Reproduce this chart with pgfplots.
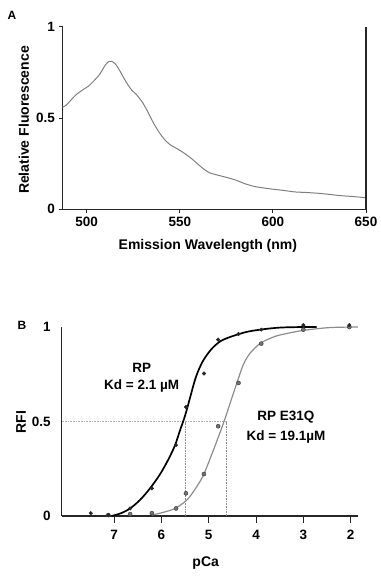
\documentclass[border=0pt]{standalone}
\usepackage{fontspec}
\setmainfont{Liberation Sans}
\usepackage{pgfplots}
\pgfplotsset{compat=1.18}
\definecolor{specgray}{HTML}{7F7F7F}
\definecolor{fitgray}{HTML}{8C8C8C}
\definecolor{dotgray}{HTML}{B0B0B0}
\begin{document}
\begin{tikzpicture}[x=1pt,y=1pt]
\path[use as bounding box] (0,0) rectangle (380,-578);
\node[font=\bfseries\fontsize{12}{12}\selectfont] at (12,-15) {A};
\node[font=\bfseries\fontsize{12}{12}\selectfont] at (22,-325) {B};
% ---------------- Panel A
\begin{axis}[
  at={(62.5pt,-209.3pt)}, anchor=south west, scale only axis,
  width=303.5pt, height=182.6pt,
  xmin=487, xmax=650, ymin=0, ymax=1,
  axis lines*=left, clip=false,
  axis line style={line width=1.1pt, black!85},
  xtick={500,550,600,650}, ytick={0,0.5,1},
  yticklabels={0,0.5,1},
  tick align=outside, major tick length=4pt,
  tick style={line width=1pt, black!85},
  /pgf/number format/assume math mode=true,
  ticklabel style={font=\bfseries\fontsize{13.5}{13.5}\selectfont},
  xticklabel style={yshift=0pt},
  yticklabel style={xshift=0pt},
  xlabel={Emission Wavelength (nm)},
  ylabel={Relative Fluorescence},
  xlabel style={at={(axis description cs:0.479,-0.2026)}, anchor=center, font=\bfseries\fontsize{14}{14}\selectfont},
  ylabel style={at={(axis description cs:-0.127,0.489)}, anchor=center, font=\bfseries\fontsize{14}{14}\selectfont},
]
\addplot[specgray, line width=1pt, smooth, tension=0.4] coordinates {
(487,0.56) (489,0.57) (494,0.625) (498,0.655) (501,0.675) (504,0.705) (507,0.74)
(510,0.79) (512,0.81) (513.5,0.81) (515.5,0.795) (518,0.755) (521,0.70) (524,0.655)
(527,0.625) (530,0.585) (533,0.53) (536,0.47) (539,0.42) (542,0.38) (545,0.352)
(548,0.335) (552,0.31) (556,0.28) (560,0.245) (563,0.219) (566,0.20) (570,0.188)
(575,0.175) (580,0.16) (585,0.14) (590,0.125) (595,0.117) (600,0.11) (606,0.103)
(612,0.095) (618,0.092) (624,0.088) (630,0.082) (636,0.075) (643,0.07) (650,0.063)
};
\addplot[black!85, line width=1.1pt] coordinates {(650,0) (650,1)};
\end{axis}
% ---------------- Panel B
\begin{axis}[
  at={(61.7pt,-516pt)}, anchor=south west, scale only axis,
  width=296.3pt, height=189pt,
  xmin=1.846, xmax=8.105, x dir=reverse, ymin=0, ymax=1,
  axis lines*=left, clip=false,
  axis line style={line width=1.1pt, black!85},
  xtick={7,6,5,4,3,2}, ytick={0,0.5,1},
  yticklabels={0,0.5,1},
  tick align=outside, major tick length=6.5pt,
  xtick style={line width=1pt, black!85},
  ytick style={draw=none},
  /pgf/number format/assume math mode=true,
  ticklabel style={font=\bfseries\fontsize{13.5}{13.5}\selectfont},
  xticklabel style={yshift=-4pt},
  yticklabel style={xshift=-1pt},
  xlabel={pCa},
  ylabel={RFI},
  xlabel style={at={(axis description cs:0.486,-0.2487)}, anchor=center, font=\bfseries\fontsize{14}{14}\selectfont},
  ylabel style={at={(axis description cs:-0.1374,0.497)}, anchor=center, font=\bfseries\fontsize{14}{14}\selectfont},
]
% guide lines
\addplot[dotgray, densely dotted, line width=0.6pt] coordinates {(8.105,0.5) (4.62,0.5)};
\addplot[dotgray!80!black, densely dotted, line width=0.6pt] coordinates {(5.50,0) (5.50,0.5)};
\addplot[dotgray!80!black, densely dotted, line width=0.6pt] coordinates {(4.62,0) (4.62,0.5)};
% RP E31Q fit
\addplot[fitgray, line width=1.2pt, smooth, tension=0.5] coordinates {
(6.20,0.005) (5.95,0.02) (5.71,0.04) (5.46,0.085) (5.28,0.145) (5.11,0.217) (4.90,0.349)
(4.69,0.49) (4.55,0.595) (4.41,0.70) (4.27,0.80) (4.13,0.86) (3.92,0.912) (3.70,0.94)
(3.49,0.958) (3.00,0.982) (2.44,0.997) (1.85,1.0)
};
% RP fit
\addplot[black, line width=1.7pt, smooth, tension=0.5] coordinates {
(7.05,0.0) (6.85,0.015) (6.66,0.04) (6.45,0.085) (6.24,0.146) (6.03,0.22) (5.85,0.30)
(5.71,0.375) (5.61,0.45) (5.50,0.53) (5.40,0.62) (5.29,0.72) (5.20,0.78) (5.11,0.825)
(5.00,0.865) (4.90,0.894) (4.75,0.925) (4.55,0.947) (4.20,0.974) (3.85,0.988)
(3.49,0.997) (3.00,1.0) (2.72,1.0)
};
% RP E31Q data
\addplot[only marks, mark=*, mark size=2pt, mark options={fill=black!55, draw=black!75, line width=0.5pt}] coordinates {
(7.12,0.005) (6.66,0.01) (6.20,0.015) (5.69,0.04) (5.48,0.12) (5.10,0.222)
(4.80,0.475) (4.37,0.704) (3.89,0.912) (3.00,0.986) (2.03,1.0)
};
% RP data
\addplot[only marks, mark=*, mark size=1.8pt, mark options={fill=black!85, draw=black!85}] coordinates {
(7.49,0.015) (7.12,0.005) (6.66,0.04) (6.20,0.146) (5.69,0.375) (5.48,0.577)
(5.10,0.754) (4.80,0.933) (4.37,0.963) (3.89,0.986) (3.00,1.01) (2.03,1.01)
};
\node[font=\bfseries\fontsize{13.5}{13.5}\selectfont, align=center] at (rel axis cs:0.27,0.785) {RP};
\node[font=\bfseries\fontsize{13.5}{13.5}\selectfont, align=center] at (rel axis cs:0.27,0.69) {Kd = 2.1 µM};
\node[font=\bfseries\fontsize{13.5}{13.5}\selectfont, align=center] at (rel axis cs:0.757,0.525) {RP E31Q};
\node[font=\bfseries\fontsize{13.5}{13.5}\selectfont, align=center] at (rel axis cs:0.757,0.42) {Kd = 19.1µM};
\end{axis}
\end{tikzpicture}
\end{document}
